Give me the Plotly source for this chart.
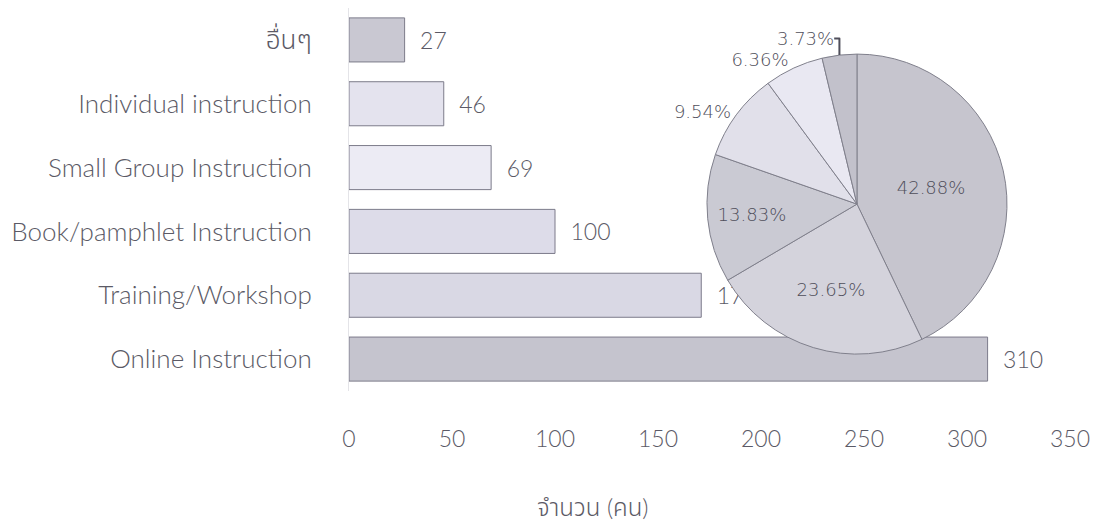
import plotly.graph_objects as go

# Data (bottom to top in the bar chart)
categories = ["Online Instruction", "Training/Workshop", "Book/pamphlet Instruction",
              "Small Group Instruction", "Individual instruction", "อื่นๆ"]
counts = [310, 171, 100, 69, 46, 27]
bar_colors = ["#c5c4ce", "#d9d8e4", "#dddce9", "#ecebf4", "#e4e3ee", "#c9c8d2"]
pie_colors = ["#c6c5ce", "#d4d3dc", "#cacad3", "#e1e0ea", "#e9e8f2", "#c2c1cb"]
pie_textpos = ["inside", "inside", "inside", "outside", "outside", "outside"]
x_ticks = [0, 50, 100, 150, 200, 250, 300, 350]
x_title = "จำนวน (คน)"

FONT = "Lato, Noto Sans, Noto Sans Thai, sans-serif"
TXT = "#5b5a66"

fig = go.Figure()
fig.add_trace(go.Bar(
    y=categories, x=counts, orientation="h",
    marker=dict(color=bar_colors, line=dict(color="#7c7b8a", width=1)),
    width=0.69,
    texttemplate="\u00a0\u00a0%{x}", textposition="outside",
    textfont=dict(family=FONT, size=23, color=TXT, weight=300),
    constraintext="none", cliponaxis=False,
    showlegend=False, hoverinfo="skip",
))

fig.add_trace(go.Pie(
    labels=categories, values=counts, sort=False,
    direction="clockwise", rotation=0,
    marker=dict(colors=pie_colors, line=dict(color="#80808c", width=1)),
    texttemplate="%{percent:.2%}", textposition=pie_textpos,
    insidetextorientation="horizontal",
    textfont=dict(family="DejaVu Sans, Verdana, sans-serif", size=18,
                  color="#4f4e5a", weight=300),
    domain=dict(x=[0.4965, 0.9126], y=[0.096, 0.880]),
    showlegend=False, hoverinfo="skip",
))

fig.update_layout(
    width=1100, height=522,
    margin=dict(l=349, r=30, t=8, b=131),
    paper_bgcolor="white", plot_bgcolor="white",
    font=dict(family=FONT, size=24, color=TXT, weight=300),
    bargap=0.31,
    xaxis=dict(range=[0, 350], tickvals=x_ticks, showgrid=False, zeroline=False,
               showline=False, ticks="", ticklabelstandoff=32,
               tickfont=dict(family=FONT, size=23, color=TXT, weight=300), fixedrange=True),
    yaxis=dict(showgrid=False, zeroline=False, showline=True, linecolor="#e4e4e8",
               linewidth=1, ticks="", ticklabelstandoff=31,
               tickfont=dict(family=FONT, size=26, color=TXT, weight=300), fixedrange=True),
    annotations=[dict(text=x_title, xref="paper", yref="paper",
                      x=(593 - 349) / 721, y=(391 - 506) / 383,
                      xanchor="center", yanchor="middle", showarrow=False,
                      font=dict(family=FONT, size=24, color=TXT, weight=300))],
)

fig.write_html("out.html")
